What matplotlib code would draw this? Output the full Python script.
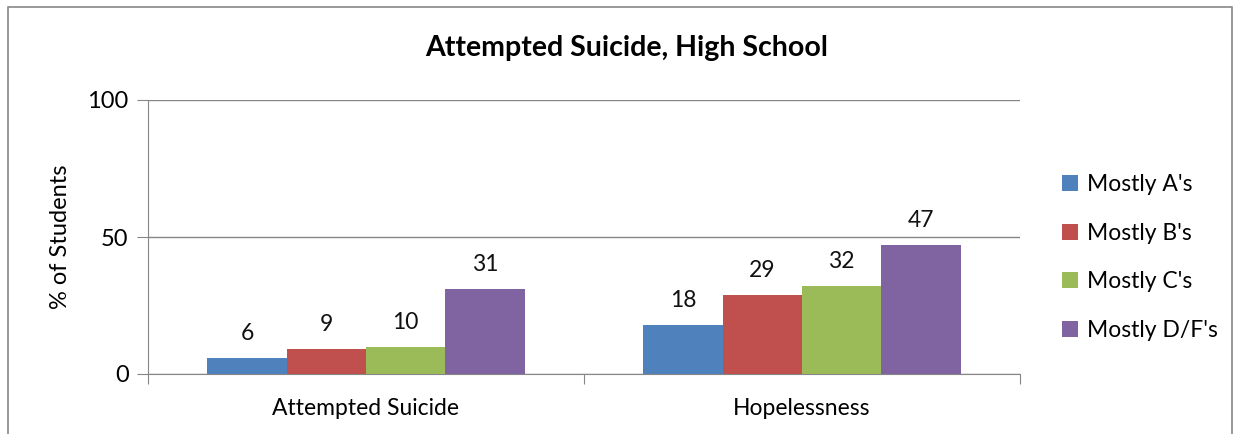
import matplotlib
matplotlib.use("Agg")
import matplotlib.pyplot as plt
from matplotlib.patches import Rectangle
import numpy as np

plt.rcParams['font.family'] = ['Lato', 'DejaVu Sans']

categories = ["Attempted Suicide", "Hopelessness"]
series_names = ["Mostly A's", "Mostly B's", "Mostly C's", "Mostly D/F's"]
values = [
    [6, 18],
    [9, 29],
    [10, 32],
    [31, 47],
]
colors = ["#4F81BD", "#C0504D", "#9BBB59", "#8064A2"]
yticks = [0, 50, 100]

W, H = 1243, 434
fig = plt.figure(figsize=(W / 100, H / 100), dpi=100)
ax = fig.add_axes([148 / W, 1 - 374 / H, (1020 - 148) / W, (374 - 100) / H])

# outer chart border
fig.patches.append(Rectangle((8 / W, -0.05), (1232 - 8) / W, 1 - 7 / H + 0.05,
                             transform=fig.transFigure, fill=False,
                             edgecolor="#888888", linewidth=1.2))

x = np.arange(len(categories))
bw = 0.182
n = len(series_names)
for i, (name, vals, c) in enumerate(zip(series_names, values, colors)):
    pos = x + (i - (n - 1) / 2) * bw
    bars = ax.bar(pos, vals, width=bw, color=c, label=name, zorder=3)
    for b, v in zip(bars, vals):
        ax.annotate(str(v), (b.get_x() + b.get_width() / 2, v),
                    xytext=(0, 10), textcoords="offset points",
                    ha="center", va="bottom", fontsize=16.5, color="#111111")

ax.set_xlim(-0.5, 1.5)
ax.set_ylim(0, 100)
ax.set_yticks(yticks)
ax.set_yticklabels([str(t) for t in yticks], fontsize=17)
ax.yaxis.grid(True, color="#868686", linewidth=1, zorder=0)
ax.set_axisbelow(True)

ax.set_xticks([-0.5, 0.5, 1.5], minor=False)
ax.set_xticklabels([])
ax.set_xticks(x, minor=True)
ax.set_xticklabels(categories, minor=True, fontsize=16.5)
ax.tick_params(axis="x", which="minor", length=0, pad=17)
ax.tick_params(axis="x", which="major", length=7, color="#868686", direction="out")
ax.tick_params(axis="y", length=8, color="#868686", direction="out", pad=6)

for s in ["top", "right"]:
    ax.spines[s].set_visible(False)
for s in ["left", "bottom"]:
    ax.spines[s].set_color("#868686")

ax.set_ylabel("% of Students", fontsize=17, labelpad=12)
fig.text(627 / W, 1 - 48 / H, "Attempted Suicide, High School",
         ha="center", va="center", fontsize=20.5, fontweight="bold")

leg = ax.legend(loc="center left", bbox_to_anchor=(1.024, 0.425), frameon=False,
                fontsize=16.5, handlelength=0.7, handleheight=0.7,
                labelspacing=1.2, handletextpad=0.4)

fig.savefig("out.png", dpi=100, facecolor="white")
